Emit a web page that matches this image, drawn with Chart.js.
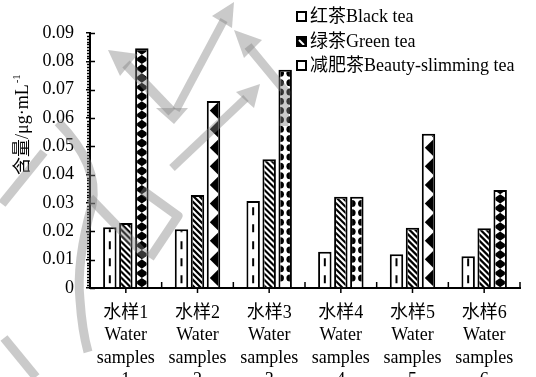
<!DOCTYPE html>
<html>
<head>
<meta charset="utf-8">
<script src="https://cdn.jsdelivr.net/npm/chart.js@4.4.1/dist/chart.umd.min.js"></script>
<style>
  html, body { margin: 0; padding: 0; background: #fff; }
  #wrap { width: 536px; height: 377px; }
</style>
</head>
<body>
<div id="wrap"><canvas id="c" width="536" height="377"></canvas></div>
<script>
// Water samples (x categories, multi-line labels)
const categories = [
  ['水样1', 'Water', 'samples', '1'],
  ['水样2', 'Water', 'samples', '2'],
  ['水样3', 'Water', 'samples', '3'],
  ['水样4', 'Water', 'samples', '4'],
  ['水样5', 'Water', 'samples', '5'],
  ['水样6', 'Water', 'samples', '6']
];
const seriesNames = ['红茶Black tea', '绿茶Green tea', '减肥茶Beauty-slimming tea'];

// Content, μg·mL-1
const blackTea    = [0.0214, 0.0207, 0.0307, 0.0128, 0.0119, 0.0112];
const greenTea    = [0.0229, 0.0328, 0.0454, 0.0322, 0.0213, 0.0211];
const slimmingTea = [0.0846, 0.0660, 0.0770, 0.0322, 0.0544, 0.0346];

const yTickLabels = ['0', '0.01', '0.02', '0.03', '0.04', '0.05', '0.06', '0.07', '0.08', '0.09'];
const yTitle = '含量/μg·mL';
const yTitleSup = '-1';

const FONT = "'Liberation Serif', 'Times New Roman', 'Noto Sans CJK SC', serif";
const INK = '#000';

// Hatch fills drawn inside each bar (0: dashed centre line, 1: diagonal stripes, 2: black motifs)
function fillBar(ctx, kind, idx, L, T, R, B) {
  if (R <= L || B <= T) return;
  ctx.save();
  ctx.beginPath();
  ctx.rect(L, T, R - L, B - T);
  ctx.clip();
  const w = R - L, cx = (L + R) / 2;
  ctx.fillStyle = INK;
  ctx.strokeStyle = INK;
  if (kind === 0) {
    ctx.lineWidth = 2;
    for (let y = B - 4; y > T; y -= 17) {
      ctx.beginPath(); ctx.moveTo(cx, y); ctx.lineTo(cx, y - 8); ctx.stroke();
    }
  } else if (kind === 1) {
    ctx.lineWidth = 2.2;
    for (let y = T - w - 6; y < B + 6; y += 6) {
      ctx.beginPath(); ctx.moveTo(L - 2, y); ctx.lineTo(R + 2, y + w + 4); ctx.stroke();
    }
  } else {
    const motif = ['diamond', 'saw', 'dots', 'dots', 'saw', 'diamond'][idx];
    const P = 18.6;
    if (motif === 'diamond') {
      const h = P / 2;
      for (let y = B; y > T - h; y -= h) {
        ctx.beginPath();
        ctx.moveTo(cx, y); ctx.lineTo(R + 2, y - h / 2); ctx.lineTo(cx, y - h); ctx.lineTo(L - 2, y - h / 2);
        ctx.closePath(); ctx.fill();
      }
      for (let y = B - h / 2; y > T - h; y -= P) {
        ctx.fillRect(cx - 1.5, y - 1.5, 3, 3);
      }
    } else if (motif === 'saw') {
      for (let y = B; y > T - P; y -= P) {
        ctx.beginPath();
        ctx.moveTo(R + 1, y); ctx.lineTo(L + 1, y - P / 2); ctx.lineTo(R + 1, y - P);
        ctx.closePath(); ctx.fill();
      }
    } else {
      for (let y = B - P / 2; y > T - P; y -= P / 2) {
        ctx.beginPath(); ctx.arc(L, y, 3.5, 0, Math.PI * 2); ctx.fill();
        ctx.beginPath(); ctx.arc(R, y, 3.5, 0, Math.PI * 2); ctx.fill();
      }
    }
  }
  ctx.restore();
}

function stroke(ctx, pts, lw) {
  ctx.lineWidth = lw;
  ctx.beginPath();
  ctx.moveTo(pts[0][0], pts[0][1]);
  for (let i = 1; i < pts.length; i++) ctx.lineTo(pts[i][0], pts[i][1]);
  ctx.stroke();
}
function tri(ctx, a, b, c) {
  ctx.beginPath(); ctx.moveTo(a[0], a[1]); ctx.lineTo(b[0], b[1]); ctx.lineTo(c[0], c[1]); ctx.closePath(); ctx.fill();
}

// Faint grey stamp strokes laid over the figure
function drawStamp(ctx) {
  ctx.save();
  ctx.strokeStyle = 'rgba(128,128,128,0.42)';
  ctx.fillStyle = 'rgba(128,128,128,0.42)';
  ctx.lineCap = 'butt';
  ctx.lineJoin = 'round';
  // upper chevrons
  stroke(ctx, [[126, 64], [172, 112]], 10);
  tri(ctx, [108, 50], [138, 54], [120, 76]);
  stroke(ctx, [[176, 110], [224, 20]], 8);
  tri(ctx, [234, 2], [232, 28], [212, 16]);
  tri(ctx, [156, 108], [188, 108], [174, 124]);
  stroke(ctx, [[172, 168], [246, 98]], 8);
  tri(ctx, [260, 84], [254, 108], [236, 92]);
  stroke(ctx, [[248, 46], [286, 92], [284, 126]], 9);
  tri(ctx, [234, 30], [262, 40], [244, 58]);
  // middle hook between the first groups
  stroke(ctx, [[90, 198], [146, 256]], 9);
  stroke(ctx, [[142, 190], [178, 216], [150, 258]], 9);
  // long left arc
  ctx.lineWidth = 9;
  ctx.beginPath();
  ctx.moveTo(58, 122);
  ctx.quadraticCurveTo(100, 165, 92, 205);
  ctx.quadraticCurveTo(76, 262, 80, 300);
  ctx.quadraticCurveTo(82, 330, 88, 352);
  ctx.stroke();
  // left-edge strokes
  stroke(ctx, [[44, 152], [2, 204]], 9);
  stroke(ctx, [[4, 338], [36, 377]], 9);
  ctx.restore();
}

const decor = {
  id: 'decor',
  afterDatasetsDraw(chart) {
    const ctx = chart.ctx;
    chart.data.datasets.forEach((ds, i) => {
      const meta = chart.getDatasetMeta(i);
      const bw = ds.borderWidth;
      meta.data.forEach((bar, j) => {
        const p = bar.getProps(['x', 'y', 'base', 'width'], true);
        fillBar(ctx, i, j, p.x - p.width / 2 + bw, p.y + bw, p.x + p.width / 2 - bw, p.base);
      });
    });
  },
  afterDraw(chart) {
    const ctx = chart.ctx;
    const xs = chart.scales.x, ys = chart.scales.y;
    const area = chart.chartArea;
    ctx.save();
    ctx.strokeStyle = INK;
    ctx.lineWidth = 1.5;
    // y axis: inner half of major ticks, minor ticks every 0.001
    for (let k = 0; k <= 90; k++) {
      const y = Math.round(ys.getPixelForValue(k / 1000)) + 0.5;
      ctx.beginPath();
      if (k % 10 === 0) { ctx.moveTo(area.left, y); ctx.lineTo(area.left + 5, y); }
      else { ctx.moveTo(area.left - 3, y); ctx.lineTo(area.left, y); }
      ctx.stroke();
    }
    // x axis: ticks below at category centres, above at category boundaries
    const n = chart.data.labels.length;
    const step = (area.right - area.left) / n;
    for (let i = 0; i < n; i++) {
      const c = xs.getPixelForValue(i);
      ctx.beginPath(); ctx.moveTo(c, area.bottom); ctx.lineTo(c, area.bottom + 5); ctx.stroke();
      const b = area.left + (i + 1) * step;
      ctx.beginPath(); ctx.moveTo(b, area.bottom); ctx.lineTo(b, area.bottom - 6); ctx.stroke();
    }

    // y axis title, rotated, with superscript
    ctx.fillStyle = INK;
    ctx.save();
    ctx.translate(23, 175);
    ctx.rotate(-Math.PI / 2);
    ctx.textAlign = 'left';
    ctx.textBaseline = 'middle';
    ctx.font = '18px ' + FONT;
    ctx.fillText(yTitle, 0, 0);
    const tw = ctx.measureText(yTitle).width;
    ctx.font = '11px ' + FONT;
    ctx.fillText(yTitleSup, tw + 1, -6);
    ctx.restore();

    // legend
    const rows = [16, 41, 65];
    ctx.font = '18px ' + FONT;
    ctx.textAlign = 'left';
    ctx.textBaseline = 'middle';
    chart.data.datasets.forEach((ds, i) => {
      const y = rows[i];
      const bx = 297, by = y - 4, s = 9;
      ctx.fillStyle = i === 1 ? INK : '#fff';
      ctx.fillRect(bx, by, s, s);
      if (i === 1) {
        ctx.strokeStyle = '#fff'; ctx.lineWidth = 2;
        ctx.beginPath(); ctx.moveTo(bx + 2, by + 3); ctx.lineTo(bx + 7, by + 8); ctx.stroke();
      }
      ctx.strokeStyle = INK; ctx.lineWidth = 2;
      ctx.strokeRect(bx, by, s, s);
      ctx.fillStyle = INK;
      ctx.fillText(ds.label, 310, y + 1);
    });
    ctx.restore();

    drawStamp(ctx);
  }
};

const datasetStyle = {
  backgroundColor: '#fff',
  borderColor: INK,
  borderWidth: 2,
  barPercentage: 0.84,
  categoryPercentage: 0.67
};

new Chart(document.getElementById('c'), {
  type: 'bar',
  data: {
    labels: categories,
    datasets: [
      Object.assign({ label: seriesNames[0], data: blackTea }, datasetStyle),
      Object.assign({ label: seriesNames[1], data: greenTea }, datasetStyle),
      Object.assign({ label: seriesNames[2], data: slimmingTea }, datasetStyle)
    ]
  },
  options: {
    responsive: false,
    devicePixelRatio: 1,
    animation: false,
    layout: { padding: { top: 33, right: 16, left: 0, bottom: 0 } },
    plugins: { legend: { display: false }, tooltip: { enabled: false } },
    scales: {
      x: {
        grid: { display: false, drawTicks: false },
        border: { display: true, color: INK, width: 2 },
        ticks: {
          color: INK,
          font: { family: FONT, size: 18, lineHeight: 1.25 },
          padding: 14,
          maxRotation: 0,
          autoSkip: false
        },
        afterFit(s) { s.height = 89; }
      },
      y: {
        min: 0,
        max: 0.09,
        grid: { drawOnChartArea: false, drawTicks: true, tickLength: 4, color: INK, lineWidth: 1.5 },
        border: { display: true, color: INK, width: 2 },
        ticks: {
          stepSize: 0.01,
          color: INK,
          font: { family: FONT, size: 18 },
          padding: 12,
          callback: (v, i) => yTickLabels[i]
        },
        afterFit(s) { s.width = 90; }
      }
    }
  },
  plugins: [decor]
});
</script>
</body>
</html>
